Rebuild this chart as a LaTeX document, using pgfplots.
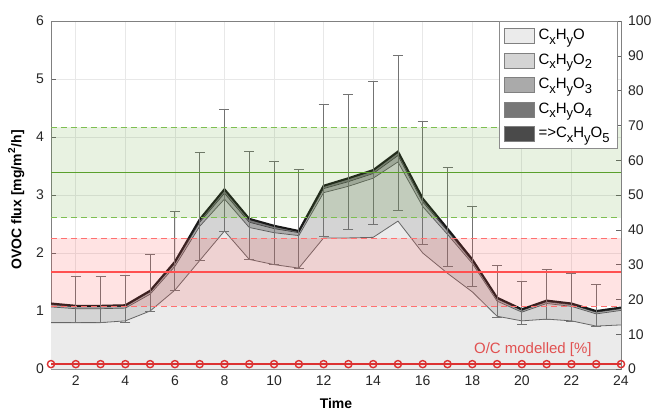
\documentclass[border=0pt]{standalone}
\usepackage{pgfplots}
\pgfplotsset{compat=1.18}
\usepackage{fontspec}
\setmainfont{Liberation Sans}

\definecolor{cOa}{HTML}{EBEBEB}
\definecolor{cOb}{HTML}{D4D4D4}
\definecolor{cOc}{HTML}{AAAAAA}
\definecolor{cOd}{HTML}{777777}
\definecolor{cOe}{HTML}{4A4A4A}
\definecolor{cgreen}{HTML}{5AA02C}
\definecolor{cgreenL}{HTML}{7DBF50}
\definecolor{cred}{HTML}{FF5050}
\definecolor{credL}{HTML}{FF7070}
\definecolor{credM}{HTML}{DC3232}
\newcommand{\sub}[1]{\raisebox{-0.55ex}{\fontsize{6.5}{7}\selectfont #1}}

\begin{document}
\begin{tikzpicture}[font=\fontsize{7}{8.4}\selectfont]
\useasboundingbox (-25.5pt,-20pt) rectangle (307pt,184.5pt);
\begin{axis}[
  at={(0,0)}, anchor=south west,
  scale only axis, width=285pt, height=174pt,
  xmin=1, xmax=24, ymin=0, ymax=6,
  xtick={2,4,...,24}, ytick={0,1,...,6},
  xtick pos=bottom, ytick pos=left,
  tick align=inside, major tick length=2.5pt,
  grid=major, grid style={draw=black!9, line width=0.4pt},
  axis line style={draw=black!50},
  tick style={draw=black!60},
  ticklabel style={text=black!85},
  /pgf/number format/assume math mode=true,
  xlabel={\bfseries Time},
  ylabel={\bfseries OVOC flux [mg/m\textsuperscript{2}/h]},
  xlabel style={at={(axis description cs:0.5,-0.098)}, anchor=center},
  ylabel style={at={(axis description cs:-0.061,0.486)}, anchor=center},
]
% stacked areas (cumulative tops), drawn from the top layer down
\addplot[fill=cOe, draw=none, forget plot] coordinates {
(1,1.13)(2,1.09)(3,1.09)(4,1.10)(5,1.35)(6,1.85)(7,2.58)(8,3.10)(9,2.59)(10,2.47)(11,2.38)(12,3.16)
(13,3.29)(14,3.43)(15,3.75)(16,2.94)(17,2.42)(18,1.89)(19,1.23)(20,1.03)(21,1.18)(22,1.13)(23,1.00)(24,1.06)} \closedcycle;
\addplot[fill=cOd, draw=none, forget plot] coordinates {
(1,1.12)(2,1.08)(3,1.08)(4,1.09)(5,1.34)(6,1.84)(7,2.56)(8,3.07)(9,2.57)(10,2.45)(11,2.37)(12,3.14)
(13,3.27)(14,3.41)(15,3.72)(16,2.92)(17,2.40)(18,1.88)(19,1.22)(20,1.02)(21,1.17)(22,1.12)(23,0.99)(24,1.05)} \closedcycle;
\addplot[fill=cOc, draw=none, forget plot] coordinates {
(1,1.11)(2,1.07)(3,1.07)(4,1.08)(5,1.33)(6,1.82)(7,2.53)(8,3.03)(9,2.53)(10,2.42)(11,2.35)(12,3.11)
(13,3.23)(14,3.37)(15,3.68)(16,2.88)(17,2.38)(18,1.86)(19,1.21)(20,1.01)(21,1.16)(22,1.11)(23,0.98)(24,1.04)} \closedcycle;
\addplot[fill=cOb, draw=none, forget plot] coordinates {
(1,1.07)(2,1.04)(3,1.04)(4,1.05)(5,1.29)(6,1.77)(7,2.46)(8,2.93)(9,2.44)(10,2.35)(11,2.30)(12,3.04)
(13,3.15)(14,3.29)(15,3.57)(16,2.80)(17,2.32)(18,1.82)(19,1.17)(20,0.98)(21,1.13)(22,1.08)(23,0.95)(24,1.01)} \closedcycle;
\addplot[fill=cOa, draw=none, forget plot] coordinates {
(1,0.80)(2,0.80)(3,0.80)(4,0.83)(5,1.00)(6,1.36)(7,1.87)(8,2.38)(9,1.89)(10,1.80)(11,1.74)(12,2.26)
(13,2.26)(14,2.27)(15,2.55)(16,2.00)(17,1.65)(18,1.33)(19,0.91)(20,0.83)(21,0.86)(22,0.83)(23,0.74)(24,0.76)} \closedcycle;
% layer edges
\addplot[draw=black!60, line width=0.4pt, forget plot] coordinates {
(1,0.80)(2,0.80)(3,0.80)(4,0.83)(5,1.00)(6,1.36)(7,1.87)(8,2.38)(9,1.89)(10,1.80)(11,1.74)(12,2.26)
(13,2.26)(14,2.27)(15,2.55)(16,2.00)(17,1.65)(18,1.33)(19,0.91)(20,0.83)(21,0.86)(22,0.83)(23,0.74)(24,0.76)};
\addplot[draw=black!65, line width=0.35pt, forget plot] coordinates {
(1,1.07)(2,1.04)(3,1.04)(4,1.05)(5,1.29)(6,1.77)(7,2.46)(8,2.93)(9,2.44)(10,2.35)(11,2.30)(12,3.04)
(13,3.15)(14,3.29)(15,3.57)(16,2.80)(17,2.32)(18,1.82)(19,1.17)(20,0.98)(21,1.13)(22,1.08)(23,0.95)(24,1.01)};
\addplot[draw=black!75, line width=0.3pt, forget plot] coordinates {
(1,1.11)(2,1.07)(3,1.07)(4,1.08)(5,1.33)(6,1.82)(7,2.53)(8,3.03)(9,2.53)(10,2.42)(11,2.35)(12,3.11)
(13,3.23)(14,3.37)(15,3.68)(16,2.88)(17,2.38)(18,1.86)(19,1.21)(20,1.01)(21,1.16)(22,1.11)(23,0.98)(24,1.04)};
\addplot[draw=black!90, line width=1pt, forget plot] coordinates {
(1,1.13)(2,1.09)(3,1.09)(4,1.10)(5,1.35)(6,1.85)(7,2.58)(8,3.10)(9,2.59)(10,2.47)(11,2.38)(12,3.16)
(13,3.29)(14,3.43)(15,3.75)(16,2.94)(17,2.42)(18,1.89)(19,1.23)(20,1.03)(21,1.18)(22,1.13)(23,1.00)(24,1.06)};
% error bars
\addplot[draw=none, mark=none, forget plot,
  error bars/.cd, y dir=both, y explicit,
  error bar style={draw=black!55, solid, line width=0.45pt},
  error mark options={draw=black!55, solid, line width=0.45pt, mark size=2.5pt, rotate=90}]
coordinates {
(2,1.195) +- (0,0.395)
(3,1.195) +- (0,0.395)
(4,1.21) +- (0,0.40)
(5,1.49) +- (0,0.49)
(6,2.04) +- (0,0.68)
(7,2.80) +- (0,0.93)
(8,3.43) +- (0,1.05)
(9,2.82) +- (0,0.93)
(10,2.685) +- (0,0.885)
(11,2.59) +- (0,0.85)
(12,3.425) +- (0,1.135)
(13,3.57) +- (0,1.17)
(14,3.72) +- (0,1.23)
(15,4.07) +- (0,1.33)
(16,3.20) +- (0,1.06)
(17,2.62) +- (0,0.86)
(18,2.115) +- (0,0.695)
(19,1.34) +- (0,0.45)
(20,1.135) +- (0,0.375)
(21,1.285) +- (0,0.425)
(22,1.235) +- (0,0.415)
(23,1.10) +- (0,0.36)
};
\end{axis}

\begin{axis}[
  at={(0,0)}, anchor=south west,
  scale only axis, width=285pt, height=174pt,
  xmin=1, xmax=24, ymin=0, ymax=100,
  axis y line*=right, axis x line=none,
  ytick={0,10,...,100},
  tick align=inside, major tick length=2.5pt,
  axis line style={draw=black!50},
  tick style={draw=black!60},
  ticklabel style={text=black!85},
  /pgf/number format/assume math mode=true,
  legend style={at={(1,1)}, anchor=north east, xshift=-1.5pt, draw=black!45, fill=white,
    inner sep=2pt, row sep=1.5pt, font=\fontsize{7.5}{9}\selectfont, legend cell align=left},
  legend image code/.code={\draw[#1] (0pt,-3.75pt) rectangle (15pt,3.75pt);},
]
\addlegendimage{fill=cOa, draw=black!50}
\addlegendentry{C\sub{x}H\sub{y}O}
\addlegendimage{fill=cOb, draw=black!50}
\addlegendentry{C\sub{x}H\sub{y}O\sub{2}}
\addlegendimage{fill=cOc, draw=black!50}
\addlegendentry{C\sub{x}H\sub{y}O\sub{3}}
\addlegendimage{fill=cOd, draw=black!50}
\addlegendentry{C\sub{x}H\sub{y}O\sub{4}}
\addlegendimage{fill=cOe, draw=black!50}
\addlegendentry{=>C\sub{x}H\sub{y}O\sub{5}}
% OVOC flux ratio band
\addplot[draw=none, fill=cgreen, fill opacity=0.14, forget plot] coordinates {(1,43.5)(24,43.5)(24,69.5)(1,69.5)} -- cycle;
\addplot[draw=cgreenL, densely dashed, line width=0.6pt, forget plot] coordinates {(1,43.5)(24,43.5)};
\addplot[draw=cgreenL, densely dashed, line width=0.6pt, forget plot] coordinates {(1,69.5)(24,69.5)};
\addplot[draw=cgreen, line width=0.7pt, forget plot] coordinates {(1,56.4)(24,56.4)};
% O/C flux ratio band
\addplot[draw=none, fill=cred, fill opacity=0.16, forget plot] coordinates {(1,18.1)(24,18.1)(24,37.6)(1,37.6)} -- cycle;
\addplot[draw=credL, densely dashed, line width=0.5pt, forget plot] coordinates {(1,18.1)(24,18.1)};
\addplot[draw=credL, densely dashed, line width=0.5pt, forget plot] coordinates {(1,37.6)(24,37.6)};
\addplot[draw=cred, line width=0.7pt, forget plot] coordinates {(1,27.9)(24,27.9)};
% O/C modelled
\addplot[draw=credM, line width=0.9pt, mark=o, mark size=1.8pt, mark options={solid, draw=credM, line width=0.7pt}, forget plot]
coordinates {(1,1.4)(2,1.4)(3,1.4)(4,1.4)(5,1.4)(6,1.4)(7,1.4)(8,1.4)(9,1.4)(10,1.4)(11,1.4)(12,1.4)
(13,1.4)(14,1.4)(15,1.4)(16,1.4)(17,1.4)(18,1.4)(19,1.4)(20,1.4)(21,1.4)(22,1.4)(23,1.4)(24,1.4)};
\node[text=credM!85, anchor=east, font=\fontsize{7.5}{9}\selectfont] at (axis cs:23.1,5.7) {O/C modelled [\%]};
\node[text=cgreen, rotate=-90, font=\fontsize{7.5}{9}\selectfont] at (rel axis cs:1.051,0.675) {OVOC flux ratio [\%]};
\node[text=cred, rotate=-90, font=\fontsize{7.5}{9}\selectfont] at (rel axis cs:1.051,0.227) {O/C flux ratio [\%]};
\end{axis}
\end{tikzpicture}
\end{document}
